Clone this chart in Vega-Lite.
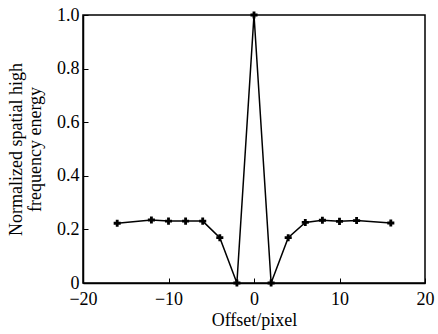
{
  "$schema": "https://vega.github.io/schema/vega-lite/v6.json",
  "width": 342,
  "height": 268,
  "autosize": {"type": "none"},
  "padding": {"left": 83, "top": 15, "right": 13, "bottom": 51},
  "background": "white",
  "config": {
    "view": {"stroke": "black", "strokeWidth": 1.5},
    "font": "Liberation Serif",
    "axis": {
      "grid": false,
      "domainColor": "black",
      "domainWidth": 1.5,
      "tickColor": "black",
      "tickSize": -5,
      "labelColor": "black",
      "titleColor": "black",
      "labelFont": "Liberation Serif",
      "titleFont": "Liberation Serif",
      "labelFontSize": 18,
      "titleFontSize": 18,
      "titleFontWeight": "normal",
      "labelFlush": false
    }
  },
  "data": {
    "values": [
      {"offset": -16, "energy": 0.223},
      {"offset": -12, "energy": 0.235},
      {"offset": -10, "energy": 0.231},
      {"offset": -8, "energy": 0.231},
      {"offset": -6, "energy": 0.231},
      {"offset": -4, "energy": 0.169},
      {"offset": -2, "energy": 0.0},
      {"offset": 0, "energy": 1.0},
      {"offset": 2, "energy": 0.0},
      {"offset": 4, "energy": 0.169},
      {"offset": 6, "energy": 0.226},
      {"offset": 8, "energy": 0.234},
      {"offset": 10, "energy": 0.23},
      {"offset": 12, "energy": 0.233},
      {"offset": 16, "energy": 0.224}
    ]
  },
  "layer": [
    {
      "mark": {"type": "line", "color": "black", "strokeWidth": 1.5, "clip": false},
      "encoding": {
        "x": {"field": "offset", "type": "quantitative"},
        "y": {"field": "energy", "type": "quantitative"}
      }
    },
    {
      "mark": {"type": "point", "shape": "cross", "filled": true, "color": "black", "size": 50, "opacity": 1, "clip": false},
      "encoding": {
        "x": {
          "field": "offset", "type": "quantitative",
          "scale": {"domain": [-20, 20], "nice": false},
          "axis": {"values": [-20, -10, 0, 10, 20], "title": "Offset/pixel", "labelPadding": 12, "titlePadding": 3}
        },
        "y": {
          "field": "energy", "type": "quantitative",
          "scale": {"domain": [0, 1], "nice": false},
          "axis": {
            "values": [0, 0.2, 0.4, 0.6, 0.8, 1.0],
            "labelExpr": "datum.value == 0 ? '0' : format(datum.value, '.1f')",
            "title": ["Normalized spatial high", "frequency energy"],
            "titleLineHeight": 19,
            "labelPadding": 9,
            "titlePadding": 12
          }
        }
      }
    }
  ]
}
